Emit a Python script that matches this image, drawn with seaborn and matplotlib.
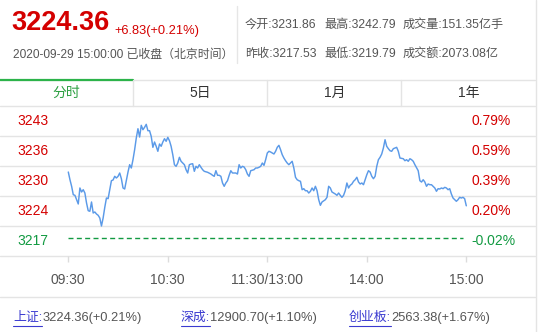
import numpy as np
import pandas as pd
import matplotlib
matplotlib.use("Agg")
import matplotlib.pyplot as plt
from matplotlib.lines import Line2D
import seaborn as sns

# ---------------- data ----------------
minutes = [0, 1, 2, 3, 4, 5, 6, 7, 8, 9, 10, 11, 12, 13, 14, 15, 16, 17, 18, 19,
           20, 21, 22, 23, 24, 25, 26, 27, 28, 29, 30, 31, 32, 33, 34, 35, 36, 37, 38, 39,
           40, 41, 42, 43, 44, 45, 46, 47, 48, 49, 50, 51, 52, 53, 54, 55, 56, 57, 58, 59,
           60, 61, 62, 63, 64, 65, 66, 67, 68, 69, 70, 71, 72, 73, 74, 75, 76, 77, 78, 79,
           80, 81, 82, 84, 86, 87, 88, 89, 90, 91, 92, 93, 94, 95, 96, 97, 98, 99, 101, 102,
           103, 104, 105, 106, 107, 108, 109, 110, 112, 113, 114, 115, 116, 117, 118, 119,
           120, 121, 122, 123, 124, 125, 126, 127, 128, 129, 130, 131, 132, 133, 134, 135,
           136, 137, 138, 139, 140, 141, 142, 143, 144, 145, 146, 147, 148, 149, 150, 151,
           152, 153, 155, 156, 157, 158, 159, 160, 161, 162, 163, 164, 165, 166, 167, 168,
           169, 170, 171, 172, 173, 174, 175, 176, 177, 178, 179, 180, 181, 182, 183, 184,
           185, 186, 187, 188, 189, 190, 191, 192, 193, 194, 195, 196, 197, 198, 199, 200,
           202, 203, 204, 205, 206, 207, 208, 209, 211, 212, 213, 214, 215, 216, 217, 218,
           219, 220, 221, 222, 223, 224, 225, 226, 227, 228, 229, 230, 231, 232, 233, 234,
           235, 236, 237, 238, 239, 240]
prices = [3232.00, 3230.26, 3228.77, 3226.87, 3226.73, 3225.74, 3224.77, 3228.39, 3227.48, 3228.00,
          3227.25, 3224.99, 3223.25, 3223.12, 3225.22, 3222.73, 3222.96, 3222.50, 3222.21, 3221.60,
          3219.79, 3221.60, 3224.02, 3226.12, 3225.97, 3228.00, 3230.04, 3230.20, 3231.03, 3230.65,
          3231.03, 3231.78, 3230.49, 3228.39, 3228.16, 3230.04, 3232.00, 3233.66, 3232.91, 3234.79,
          3237.05, 3239.70, 3241.80, 3239.92, 3242.57, 3241.57, 3242.12, 3242.79, 3241.35, 3241.35,
          3240.08, 3237.59, 3238.79, 3237.82, 3236.69, 3238.34, 3237.82, 3238.79, 3239.54, 3238.95,
          3239.85, 3239.08, 3237.82, 3235.92, 3233.66, 3233.29, 3234.04, 3235.33, 3234.43, 3234.04,
          3233.66, 3232.53, 3231.78, 3233.66, 3233.81, 3233.88, 3232.16, 3233.29, 3232.91, 3233.66,
          3233.07, 3232.53, 3232.16, 3231.94, 3231.55, 3231.26, 3231.03, 3232.30, 3231.26, 3231.26,
          3231.03, 3229.52, 3228.77, 3229.52, 3230.04, 3231.26, 3232.30, 3231.78, 3231.78, 3231.55,
          3233.66, 3232.91, 3233.29, 3233.14, 3232.53, 3231.55, 3231.03, 3232.30, 3232.53, 3232.91,
          3232.91, 3233.07, 3233.29, 3234.04, 3233.52, 3234.79,
          3236.30, 3236.69, 3236.53, 3236.30, 3236.08, 3236.69, 3237.59, 3238.04, 3237.05, 3235.92,
          3235.17, 3234.56, 3234.04, 3233.66, 3234.04, 3234.43,
          3232.91, 3230.81, 3230.26, 3230.04, 3229.90, 3228.00, 3228.23, 3227.77, 3227.77, 3227.25,
          3227.64, 3228.39, 3227.77, 3228.77, 3227.77, 3225.74,
          3224.47, 3225.22, 3225.74, 3226.28, 3228.77, 3228.39, 3227.48, 3227.25, 3227.03, 3226.73,
          3227.25, 3226.73, 3226.28, 3226.73, 3227.77, 3229.52,
          3228.39, 3229.00, 3229.29, 3229.90, 3230.26, 3230.81, 3229.74, 3229.29, 3229.52, 3229.13,
          3230.26, 3231.39, 3232.30, 3232.00, 3231.03, 3230.49,
          3231.03, 3233.29, 3234.79, 3235.33, 3236.08, 3237.43, 3239.31, 3237.82, 3237.28, 3236.82,
          3236.69, 3237.28, 3237.43, 3237.59, 3236.69, 3235.17,
          3235.01, 3234.56, 3234.79, 3234.43, 3235.01, 3234.79, 3234.43, 3233.66, 3232.30, 3230.04,
          3229.74, 3230.26, 3229.74, 3228.77, 3229.29, 3229.13,
          3229.13, 3228.77, 3228.39, 3227.64, 3228.23, 3228.16, 3228.39, 3228.23, 3228.54, 3228.39,
          3228.00, 3228.23, 3227.03, 3226.12, 3225.74, 3225.38,
          3225.74, 3226.28, 3226.12, 3226.28, 3225.97, 3224.36]

ref_level = 3217.0
price_labels = ["3243", "3236", "3230", "3224", "3217"]
pct_labels = ["0.79%", "0.59%", "0.39%", "0.20%", "-0.02%"]
time_ticks = [0, 60, 120, 180, 240]
time_labels = ["09:30", "10:30", "11:30/13:00", "14:00", "15:00"]
tabs = ["分时", "5日", "1月", "1年"]
last_price = "3224.36"
change_text = "+6.83(+0.21%)"
stamp_text = "2020-09-29 15:00:00 已收盘（北京时间）"
info_row1 = ["今开:3231.86", "最高:3242.79", "成交量:151.35亿手"]
info_row2 = ["昨收:3217.53", "最低:3219.79", "成交额:2073.08亿"]
idx_names = ["上证:", "深成:", "创业板:"]
idx_values = ["3224.36(+0.21%)", "12900.70(+1.10%)", "2563.38(+1.67%)"]

df = pd.DataFrame({"minute": minutes, "price": prices})

# ---------------- style ----------------
sns.set_style("white")
plt.rcParams["font.family"] = ["Liberation Sans", "Noto Sans CJK SC", "DejaVu Sans"]

W, H = 539, 332
fig = plt.figure(figsize=(W / 100, H / 100), dpi=100)
fig.patch.set_facecolor("white")


def fx(px):
    return px / W


def fy(py):
    return 1 - py / H


RED = "#d40000"
GREEN = "#129a42"
GRAY = "#555555"
GRID = "#e4e4e4"
LINE = "#5b9ae8"

# main axes: x px 0..535, y px 106..256
ax = fig.add_axes([0, fy(256), fx(535), (256 - 106) / H])
ppm = 398 / 240.0
x0 = 68.3
ax.set_xlim(-x0 / ppm, (535 - x0) / ppm)
ylo, yhi = 3213.00, 3246.94
ax.set_ylim(ylo, yhi)
for s in ax.spines.values():
    s.set_visible(False)

edges = np.linspace(ylo, yhi, 6)
for e in edges:
    ax.axhline(e, color=GRID, lw=1, zorder=0, clip_on=False)

ax.hlines(ref_level, 0, 238, colors=GREEN, linestyles=(0, (3.6, 2.4)), lw=1.0, zorder=2)

sns.lineplot(data=df, x="minute", y="price", ax=ax, color=LINE, linewidth=1.05, zorder=3)
ax.set_xlabel("")
ax.set_ylabel("")
ax.set_yticks([])

ax.set_xticks(time_ticks)
ax.set_xticklabels(time_labels, color=GRAY, fontsize=10)
ax.tick_params(axis="x", direction="out", length=4, width=1, color="#dcdcdc", pad=8.5, bottom=True)

centers = (edges[:-1] + edges[1:]) / 2
centers = centers[::-1]
ytr = ax.get_yaxis_transform()
for i, (c, pl, cl) in enumerate(zip(centers, price_labels, pct_labels)):
    col = GREEN if i == len(centers) - 1 else RED
    ax.text(fx(17) / fx(535), c, pl, transform=ytr, ha="left", va="center", fontsize=10, color=col)
    ax.text(fx(471) / fx(535), c, cl, transform=ytr, ha="left", va="center", fontsize=10, color=col)

# ---------------- header ----------------
fig.text(fx(11), fy(23), last_price, fontsize=19.5, fontweight="bold", color=RED, ha="left", va="center")
fig.text(fx(114), fy(31), change_text, fontsize=9.3, color=RED, ha="left", va="center")
fig.text(fx(13), fy(55), stamp_text, fontsize=8.6, color=GRAY, ha="left", va="center")

fig.add_artist(Line2D([fx(237), fx(237)], [fy(6), fy(63)], color="#e6e6e6", lw=1))

xs = [245, 324, 403]
for x, t in zip(xs, info_row1):
    fig.text(fx(x), fy(25), t, fontsize=8.7, color=GRAY, ha="left", va="center")
for x, t in zip(xs, info_row2):
    fig.text(fx(x), fy(54), t, fontsize=8.7, color=GRAY, ha="left", va="center")

# ---------------- tabs ----------------
fig.add_artist(Line2D([fx(0), fx(535)], [fy(79.5), fy(79.5)], color="#e4e4e4", lw=1))
fig.add_artist(Line2D([fx(0), fx(133)], [fy(79.5), fy(79.5)], color="#2cb34a", lw=1.6))
for sx in [133, 267, 401]:
    fig.add_artist(Line2D([fx(sx), fx(sx)], [fy(80), fy(106)], color="#e4e4e4", lw=1))
tab_centers = [66, 200, 335, 469]
for i, (cx, t) in enumerate(zip(tab_centers, tabs)):
    fig.text(fx(cx), fy(93), t, fontsize=10, color=("#2ea043" if i == 0 else "#333333"),
             ha="center", va="center")

# right border and bottom separator
fig.add_artist(Line2D([fx(535.7), fx(535.7)], [0, 1], color="#e4e4e4", lw=1))
fig.add_artist(Line2D([fx(0), fx(535)], [fy(297), fy(297)], color="#e4e4e4", lw=1))

# ---------------- bottom index links ----------------
LINK = "#3a3ad0"
starts = [13, 181, 349]
fig.canvas.draw()
renderer = fig.canvas.get_renderer()
for sx, name, val in zip(starts, idx_names, idx_values):
    tn = fig.text(fx(sx), fy(318), name, fontsize=9.3, color=LINK, ha="left", va="center")
    bb = tn.get_window_extent(renderer)
    fig.add_artist(Line2D([bb.x0 / W, bb.x1 / W], [fy(325.5), fy(325.5)], color=LINK, lw=0.8))
    fig.text(bb.x1 / W, fy(318), val, fontsize=9.3, color=GRAY, ha="left", va="center")

fig.savefig("out.png", dpi=100, facecolor="white")
